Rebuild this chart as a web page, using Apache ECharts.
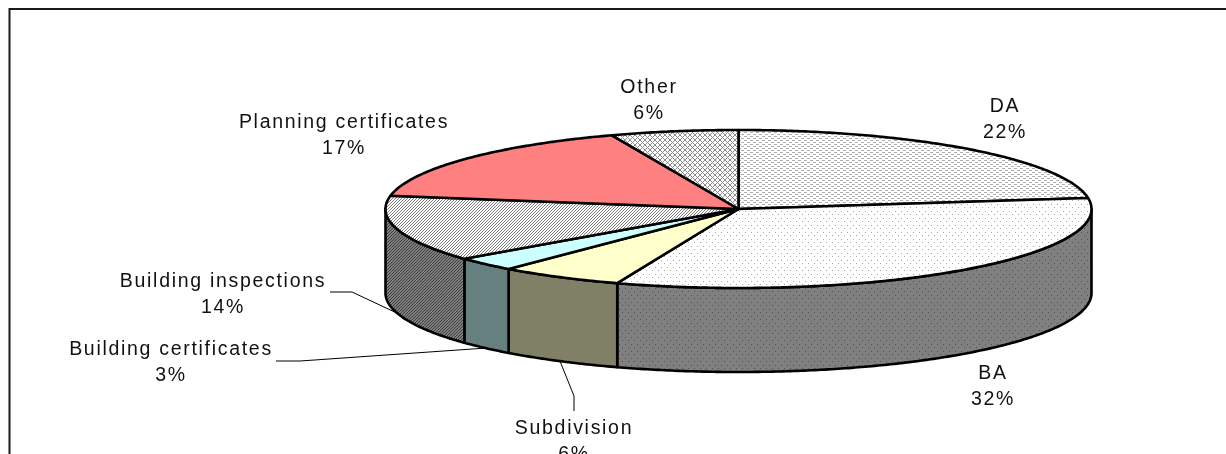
<!DOCTYPE html>
<html>
<head>
<meta charset="utf-8">
<style>html,body{margin:0;padding:0;background:#fff}#chart{width:1226px;height:454px}</style>
<script src="https://cdn.jsdelivr.net/npm/echarts@6/dist/echarts.min.js"></script>
</head>
<body>
<div id="chart"></div>
<script>
// Slices in clockwise order from twelve o'clock
const categories = ['DA', 'BA', 'Subdivision', 'Building certificates', 'Building inspections', 'Planning certificates', 'Other'];
const shares = [22, 32, 6, 3, 14, 17, 6];

// Tilted disc geometry
const disc = { cx: 738.5, cy: 209, rx: 353, ry: 79, depth: 84 };

// Label centres and leader elbows
const labelPlaces = [
  { x: 1005, y: 120 },
  { x: 993, y: 387 },
  { x: 574, y: 442, leader: [[574, 411], [574, 396]] },
  { x: 171, y: 363, leader: [[276, 361], [300, 361]] },
  { x: 223, y: 295, leader: [[330, 292], [352, 292]] },
  { x: 344, y: 136 },
  { x: 649, y: 101 }
];

// Letter spacing is not a text style option, so it is applied when text is painted
const paintText = CanvasRenderingContext2D.prototype.fillText;
CanvasRenderingContext2D.prototype.fillText = function (...args) {
  this.letterSpacing = '1.7px';
  return paintText.apply(this, args);
};

// Repeating hatch tiles
function tile(w, h, back, ink, cells) {
  const c = document.createElement('canvas');
  c.width = w; c.height = h;
  const g = c.getContext('2d');
  g.fillStyle = back; g.fillRect(0, 0, w, h);
  g.fillStyle = ink;
  cells.forEach(p => g.fillRect(p[0], p[1], p[2] || 1, p[3] || 1));
  return { image: c, repeat: 'repeat' };
}
const diagonal = [[0, 2], [1, 1], [2, 0]];
const crossed = [[0, 0], [1, 1], [2, 2], [3, 3], [4, 4], [4, 0], [3, 1], [1, 3], [0, 4]];
const dots = [[1, 1], [4, 4]];
const bricks = [[0, 0, 3, 1], [3, 2, 3, 1]];
const topFills = [
  tile(6, 4, '#ffffff', '#b0b0b0', bricks),
  tile(6, 7, '#ffffff', '#a8a8a8', dots),
  '#ffffcc',
  '#ccffff',
  tile(3, 3, '#ffffff', '#7c7c7c', diagonal),
  '#ff8080',
  tile(5, 5, '#ffffff', '#8c8c8c', crossed)
];
const wallFills = [
  '#808080',
  tile(6, 7, '#808080', '#505050', dots),
  '#808066',
  '#668080',
  tile(3, 3, '#808080', '#3c3c3c', diagonal),
  '#804040',
  '#808080'
];

// Accumulated share to rim angle; the tilt drags the front of the disc round slightly
function rimAngle(share) {
  const t = share / 100 * Math.PI * 2;
  const drag = 0.11 * (1 - Math.cos(t)) / 2 + 0.0087 * Math.sin(t) - 0.014 * Math.sin(2 * t);
  return t + drag;
}
function rimPoint(angle, drop) {
  return [disc.cx + disc.rx * Math.sin(angle), disc.cy - disc.ry * Math.cos(angle) + (drop || 0)];
}
function arc(from, to, drop) {
  const steps = Math.max(2, Math.ceil(Math.abs(to - from) / 0.01));
  const pts = [];
  for (let i = 0; i <= steps; i++) pts.push(rimPoint(from + (to - from) * i / steps, drop));
  return pts;
}
function startOf(i) {
  return shares.slice(0, i).reduce((a, b) => a + b, 0);
}

const edge = { stroke: '#000', lineWidth: 2.6, lineJoin: 'round' };

function renderWall(params, api) {
  const i = params.dataIndex;
  const from = Math.max(rimAngle(startOf(i)), Math.PI / 2);
  const to = Math.min(rimAngle(startOf(i) + api.value(0)), Math.PI * 1.5);
  if (to <= from) return null;
  return {
    type: 'polygon',
    shape: { points: arc(from, to, 0).concat(arc(to, from, disc.depth)) },
    style: Object.assign({ fill: wallFills[i] }, edge)
  };
}

function renderTop(params, api) {
  const i = params.dataIndex;
  const from = rimAngle(startOf(i));
  const to = rimAngle(startOf(i) + api.value(0));
  return {
    type: 'polygon',
    shape: { points: [[disc.cx, disc.cy]].concat(arc(from, to, 0)) },
    style: Object.assign({ fill: topFills[i] }, edge)
  };
}

function renderLabel(params, api) {
  const i = params.dataIndex;
  const place = labelPlaces[i];
  const children = [{
    type: 'text',
    style: {
      text: categories[i] + '\n' + api.value(0) + '%',
      x: place.x, y: place.y,
      align: 'center', verticalAlign: 'middle',
      font: '19.5px "Liberation Sans", Arial, sans-serif',
      lineHeight: 26, fill: '#111'
    }
  }];
  if (place.leader) {
    const mid = rimAngle(startOf(i) + api.value(0) / 2);
    children.push({
      type: 'polyline',
      shape: { points: place.leader.concat([rimPoint(mid, disc.depth)]) },
      style: { stroke: '#000', lineWidth: 1, fill: null }
    });
  }
  return { type: 'group', children };
}

const values = shares.map(v => [v]);
const chart = echarts.init(document.getElementById('chart'), null, { renderer: 'canvas' });
chart.setOption({
  animation: false,
  backgroundColor: '#ffffff',
  graphic: [
    { type: 'polyline', z: 1, silent: true,
      shape: { points: [[9.5, 454], [9.5, 9], [1226, 9]] },
      style: { stroke: '#1a1a1a', lineWidth: 2, fill: null } }
  ],
  series: [
    { type: 'custom', coordinateSystem: 'none', z: 3, silent: true, data: values, renderItem: renderLabel },
    { type: 'custom', coordinateSystem: 'none', z: 4, silent: true, data: values, renderItem: renderWall },
    { type: 'custom', coordinateSystem: 'none', z: 5, silent: true, data: values, renderItem: renderTop }
  ]
});
</script>
</body>
</html>
